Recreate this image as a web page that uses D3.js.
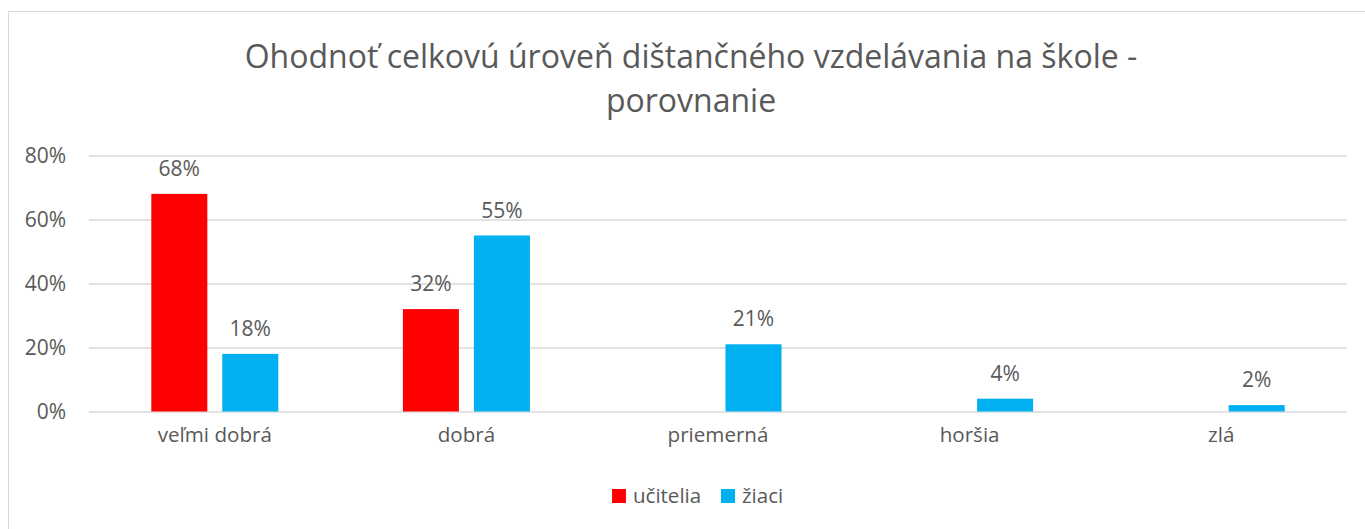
<!DOCTYPE html>
<meta charset="utf-8">
<style>
  body { margin: 0; background: #fff; }
  svg text { font-family: "Open Sans", sans-serif; fill: #595959; }
</style>
<svg width="1365" height="529"></svg>
<script src="https://d3js.org/d3.v7.min.js"></script>
<script>

// data
var categories = ["veľmi dobrá", "dobrá", "priemerná", "horšia", "zlá"];
var seriesNames = ["učitelia", "žiaci"];
var ucitelia = [68, 32, null, null, null];
var ziaci = [18, 55, 21, 4, 2];
var yTicks = [0, 20, 40, 60, 80];
var colors = ["#ff0000", "#00b0f0"];
var titleLines = ["Ohodnoť celkovú úroveň dištančného vzdelávania na škole -", "porovnanie"];

var svg = d3.select("svg"),
    margin = {top: 155.5, right: 18, bottom: 117.5, left: 89},
    width = +svg.attr("width") - margin.left - margin.right,
    height = +svg.attr("height") - margin.top - margin.bottom,
    g = svg.append("g").attr("transform", "translate(" + margin.left + "," + margin.top + ")");

// chart frame (right and bottom run off the page)
svg.append("rect")
    .attr("x", 8.5).attr("y", 11.5)
    .attr("width", 1400).attr("height", 600)
    .attr("fill", "none").attr("stroke", "#d9d9d9");

// title
svg.append("text")
    .attr("x", 691).attr("y", 68)
    .attr("text-anchor", "middle")
    .style("font-size", "32px")
    .selectAll("tspan")
    .data(titleLines)
    .enter().append("tspan")
      .attr("x", 691)
      .attr("dy", function(d, i) { return i ? 44 : 0; })
      .text(function(d) { return d; });

var x0 = d3.scaleBand().domain(categories).range([0, width]);
var x1 = d3.scaleBand().domain(seriesNames)
    .range([x0.bandwidth() / 2 - 63.5, x0.bandwidth() / 2 + 63.5])
    .paddingInner(0.211);
var y = d3.scaleLinear().domain([0, 80]).range([height, 0]);

// gridlines
g.append("g")
    .attr("class", "grid")
    .call(d3.axisLeft(y).tickValues(yTicks).tickSize(-width).tickFormat(""))
    .call(function(s) {
      s.select(".domain").remove();
      s.selectAll("line").attr("stroke", "#d9d9d9").attr("stroke-width", 1.3);
    });

// y axis labels
g.append("g")
    .call(d3.axisLeft(y).tickValues(yTicks).tickSize(0).tickPadding(23)
      .tickFormat(function(d) { return d + "%"; }))
    .call(function(s) {
      s.select(".domain").remove();
      s.selectAll("text").style("font-size", "21px").attr("fill", "#595959")
        .style("font-family", "'Open Sans', sans-serif");
    });

// x axis labels
g.append("g")
    .attr("transform", "translate(0," + height + ")")
    .call(d3.axisBottom(x0).tickSize(0).tickPadding(16))
    .call(function(s) {
      s.select(".domain").remove();
      s.selectAll("text").style("font-size", "20.6px").attr("fill", "#595959")
        .style("font-family", "'Open Sans', sans-serif");
    });

var series = [ucitelia, ziaci];

series.forEach(function(vals, si) {
  var pts = categories.map(function(c, i) { return {cat: c, v: vals[i]}; })
      .filter(function(d) { return d.v != null; });

  g.selectAll(".bar" + si)
    .data(pts)
    .enter().append("rect")
      .attr("x", function(d) { return x0(d.cat) + x1(seriesNames[si]); })
      .attr("y", function(d) { return y(d.v); })
      .attr("width", x1.bandwidth())
      .attr("height", function(d) { return height - y(d.v); })
      .attr("fill", colors[si]);

  g.selectAll(".lbl" + si)
    .data(pts)
    .enter().append("text")
      .attr("x", function(d) { return x0(d.cat) + x1(seriesNames[si]) + x1.bandwidth() / 2; })
      .attr("y", function(d) { return y(d.v) - 18; })
      .attr("text-anchor", "middle")
      .style("font-size", "21px")
      .text(function(d) { return d.v + "%"; });
});

// legend
var legend = svg.append("g").attr("transform", "translate(612,489)");
var offs = [0, 109];
seriesNames.forEach(function(n, i) {
  legend.append("rect")
      .attr("x", offs[i]).attr("y", 0)
      .attr("width", 14).attr("height", 14)
      .attr("fill", colors[i]);
  legend.append("text")
      .attr("x", offs[i] + 21).attr("y", 14)
      .style("font-size", "20.5px")
      .text(n);
});

</script>
